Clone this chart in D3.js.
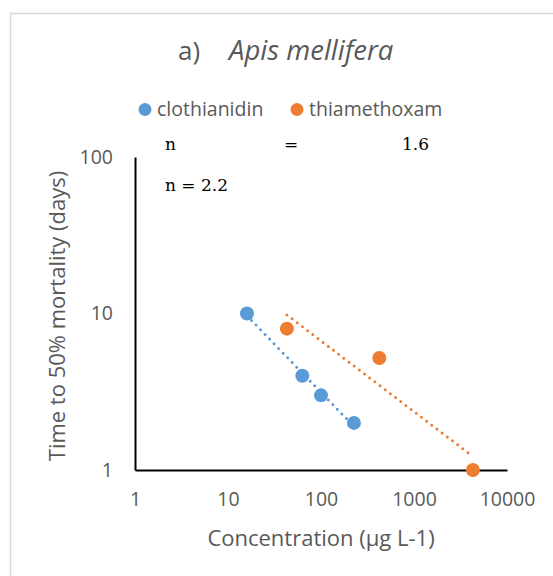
<!DOCTYPE html>
<html>
<head>
	<meta charset="utf-8"/>
	<script src="https://cdn.jsdelivr.net/npm/d3@7/dist/d3.min.js"></script>
	<style>
		body{ margin:0; background:#fff; }
		svg{ display:block; }
		.lbl{ font-family:"Open Sans",sans-serif; fill:#595959; }
	</style>
</head>
<body>
<script>
// data
var seriesNames = ["clothianidin", "thiamethoxam"];
var seriesColors = ["#5B9BD5", "#ED7D31"];
var clothConc = [16, 63, 100, 226];
var clothTime = [10, 4, 3, 2];
var thiaConc = [43, 424, 4300];
var thiaTime = [8, 5.2, 1];
var xTicks = [1, 10, 100, 1000, 10000];
var yTicks = [1, 10, 100];
var slopeNotes = ["n = 1.6", "n = 2.2"];

var W = 553, H = 576;
var svg = d3.select("body").append("svg").attr("width", W).attr("height", H);

svg.append("rect").attr("width", W).attr("height", H).attr("fill", "#fff");
// chart frame (runs off right and bottom edge)
svg.append("rect")
	.attr("x", 10.5).attr("y", 13.5).attr("width", 700).attr("height", 700)
	.attr("fill", "none").attr("stroke", "#d9d9d9").attr("stroke-width", 1.5);

var x = d3.scaleLog().domain([1, 10000]).range([135, 507]);
var y = d3.scaleLog().domain([1, 100]).range([470, 157]);

// title
var title = svg.append("text").attr("class", "lbl").attr("y", 60).style("font-size", "26px");
title.append("tspan").attr("x", 178).text("a)");
title.append("tspan").attr("x", 229).style("font-style", "italic").style("font-size", "27.5px").text("Apis mellifera");

// legend
var legX = [145, 297];
seriesNames.forEach(function(name, i){
	svg.append("circle").attr("cx", legX[i]).attr("cy", 109.5).attr("r", 6.5).attr("fill", seriesColors[i]);
	svg.append("text").attr("class", "lbl").attr("x", legX[i] + 12).attr("y", 115.5)
		.style("font-size", "19.5px").text(name);
});

// axes
var xAxis = svg.append("g").attr("transform", "translate(0,470)")
	.call(d3.axisBottom(x).tickValues(xTicks).tickSize(0).tickPadding(22).tickFormat(d3.format("d")));
var yAxis = svg.append("g").attr("transform", "translate(135,0)")
	.call(d3.axisLeft(y).tickValues(yTicks).tickSize(0).tickPadding(22).tickFormat(d3.format("d")));
[xAxis, yAxis].forEach(function(a){
	a.select(".domain").attr("stroke", "#000").attr("stroke-width", 2);
	a.selectAll("text").attr("class", "lbl").attr("fill", "#595959")
		.style("font-size", "19.5px").style("font-family", "'Open Sans',sans-serif");
});

// axis titles
svg.append("text").attr("class", "lbl").attr("x", 321).attr("y", 546)
	.attr("text-anchor", "middle").style("font-size", "22px").text("Concentration (µg L-1)");
svg.append("text").attr("class", "lbl")
	.attr("transform", "translate(65,316) rotate(-90)")
	.attr("text-anchor", "middle").style("font-size", "22px").text("Time to 50% mortality (days)");

// power trendlines, least squares in log-log space
function powerFit(xs, ys){
	var lx = xs.map(Math.log10), ly = ys.map(Math.log10);
	var mx = d3.mean(lx), my = d3.mean(ly);
	var b = d3.sum(lx, function(v, i){ return (v - mx) * (ly[i] - my); }) /
		d3.sum(lx, function(v){ return (v - mx) * (v - mx); });
	var a = my - b * mx;
	return function(c){ return Math.pow(10, a + b * Math.log10(c)); };
}

var series = [
	{conc: clothConc, time: clothTime, color: seriesColors[0]},
	{conc: thiaConc, time: thiaTime, color: seriesColors[1]}
];

series.forEach(function(s){
	var f = powerFit(s.conc, s.time);
	var ext = d3.extent(s.conc);
	svg.append("line")
		.attr("x1", x(ext[0])).attr("y1", y(f(ext[0])))
		.attr("x2", x(ext[1])).attr("y2", y(f(ext[1])))
		.attr("stroke", s.color).attr("stroke-width", 3)
		.attr("stroke-linecap", "round").attr("stroke-dasharray", "0 6.5");
});

series.forEach(function(s){
	svg.append("g").selectAll("circle").data(s.conc).enter().append("circle")
		.attr("cx", function(d){ return x(d); })
		.attr("cy", function(d, i){ return y(s.time[i]); })
		.attr("r", 7)
		.attr("fill", s.color);
});

// slope notes (serif text boxes)
var n1 = svg.append("text").attr("y", 150).style("font-family", "'DejaVu Serif',serif")
	.style("font-size", "17px").attr("fill", "#000");
var parts = slopeNotes[0].split(" ");
var partX = [165, 284, 402];
parts.forEach(function(p, i){ n1.append("tspan").attr("x", partX[i]).text(p); });
svg.append("text").attr("x", 165).attr("y", 191).style("font-family", "'DejaVu Serif',serif")
	.style("font-size", "17px").attr("fill", "#000").text(slopeNotes[1]);
</script>
</body>
</html>
